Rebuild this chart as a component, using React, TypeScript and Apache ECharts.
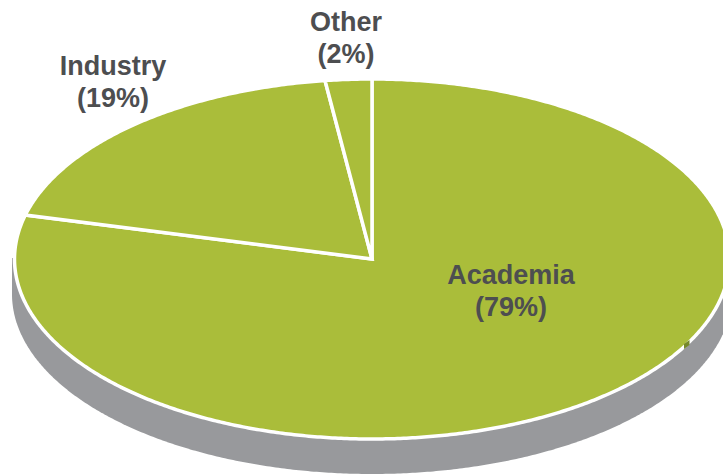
import React, { useEffect, useRef } from "react";
import * as echarts from "echarts";

const categories = ["Academia", "Industry", "Other"];
const shares = [79, 19, 2.1];
const sliceColors = ["#AABD3A", "#AABD3A", "#AABD3A"];

const CX = 372;
const CY = 259;
const RX = 357.5;
const RY = 180;
const DEPTH_RX = 360;
const DEPTH_RY = 180;
const DEPTH_CY = 294;
const DEPTH_TOP = 258;
const labelCenters = [
  [511, 291],
  [113, 82],
  [346, 38],
];

function arcPoints(cx: number, cy: number, rx: number, ry: number, from: number, to: number) {
  const n = Math.max(2, Math.ceil(Math.abs(to - from) * 120));
  const pts: number[][] = [];
  for (let i = 0; i <= n; i++) {
    const a = from + ((to - from) * i) / n;
    pts.push([cx + rx * Math.sin(a), cy - ry * Math.cos(a)]);
  }
  return pts;
}

export default function App() {
  const ref = useRef<HTMLDivElement>(null);
  useEffect(() => {
    document.body.style.margin = "0";
    const chart = echarts.init(ref.current!, null, { renderer: "svg" });
    const total = shares.reduce((a, b) => a + b, 0);
    const renderSlice = (params: any, api: any) => {
      const i = params.dataIndex;
      const before = shares.slice(0, i).reduce((a, b) => a + b, 0);
      const from = (before / total) * 2 * Math.PI;
      const to = ((before + api.value(0)) / total) * 2 * Math.PI;
      return {
        type: "polygon",
        shape: { points: [[CX, CY], ...arcPoints(CX, CY, RX, RY, from, to)] },
        style: { fill: sliceColors[i], stroke: "#FFFFFF", lineWidth: 3.5, lineJoin: "miter" },
      };
    };
    const renderDepth = () => {
      const lower = arcPoints(CX, DEPTH_CY, DEPTH_RX, DEPTH_RY, Math.PI / 2, (3 * Math.PI) / 2);
      return {
        type: "polygon",
        shape: {
          points: [[CX + DEPTH_RX, DEPTH_TOP], ...lower, [CX - DEPTH_RX, DEPTH_TOP]],
        },
        style: { fill: "#98999C" },
      };
    };
    const renderLabel = (params: any, api: any) => {
      const i = params.dataIndex;
      return {
        type: "text",
        x: labelCenters[i][0],
        y: labelCenters[i][1],
        style: {
          text: `${categories[i]}\n(${Math.round(api.value(0))}%)`,
          fill: "#4D4E50",
          font: 'bold 27px "Liberation Sans", Arial, sans-serif',
          lineHeight: 32,
          align: "center",
          verticalAlign: "middle",
        },
      };
    };
    chart.setOption({
      animation: false,
      tooltip: { show: false },
      graphic: [
        {
          type: "polygon",
          z: 100,
          shape: { points: [[684, 344], [689.5, 340], [689.5, 345], [684, 349]] },
          style: { fill: "#76892A" },
        },
      ],
      series: [
        {
          type: "custom",
          coordinateSystem: "none",
          z: 1,
          silent: true,
          data: [0],
          renderItem: renderDepth,
        },
        {
          type: "custom",
          coordinateSystem: "none",
          z: 2,
          silent: true,
          data: shares,
          renderItem: renderSlice,
        },
        {
          type: "custom",
          coordinateSystem: "none",
          z: 3,
          silent: true,
          data: shares,
          renderItem: renderLabel,
        },
      ],
    });
    return () => chart.dispose();
  }, []);
  return <div ref={ref} style={{ width: 723, height: 475, overflow: "hidden" }} />;
}
